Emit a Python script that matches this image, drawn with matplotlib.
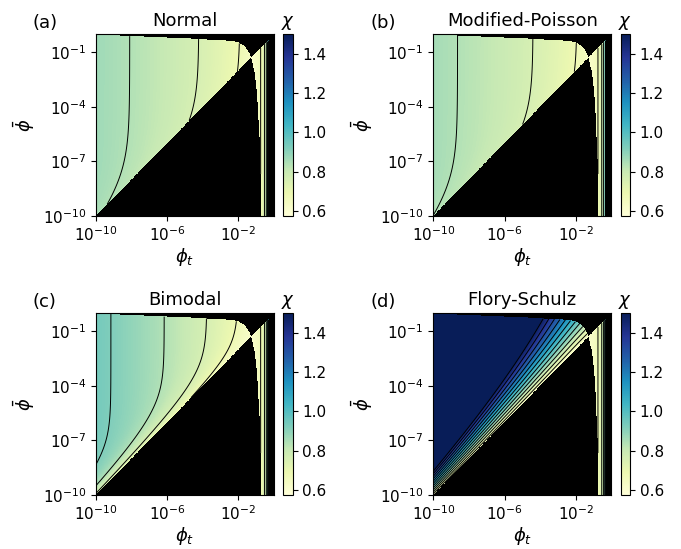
import numpy as np
import matplotlib
matplotlib.use("Agg")
import matplotlib.pyplot as plt
from matplotlib.colors import Normalize

plt.rcParams["font.size"] = 11

# Panels ######################################################################

titles = ["Normal", "Modified-Poisson", "Bimodal", "Flory-Schulz"]
tags = ["(a)", "(b)", "(c)", "(d)"]

# chi far from the diagonal at phi_t = 1e-10, and how fast it falls with phi_t
chi_left = [0.87, 0.86, 0.94, 0.64]
chi_min = [0.60, 0.60, 0.60, 0.60]
fall_exp = [0.48, 0.47, 0.60, 0.50]
# chi on the diagonal (phi_bar = phi_t) as fraction of the far value
diag_frac = [0.92, 0.92, 0.40, 1.00]
diag_rate = [0.40, 0.40, 0.60, 0.30]
# growth of chi with log10(phi_bar / phi_t) (Flory-Schulz only)
spread_amp = [0.0, 0.0, 0.0, 0.235]
spread_pow = [1.0, 1.0, 1.0, 1.0]
spread_tilt = [0.0, 0.0, 0.0, -0.05]

# rise of chi as phi_t -> 1
rise_amp = 0.28
rise_pole = 0.8
x_cross = -1.3

# edges of the solution region
top_slope = 0.045
top_gain = 12.7
top_pow = 1.3
top_phic = 0.22
x_right = -0.3

chi_lo, chi_hi = 0.573, 1.5
line_levels = np.arange(0.68, 1.5, 0.08)
cbar_ticks = [0.6, 0.8, 1.0, 1.2, 1.4]

# Grid ########################################################################

n = 500
lx = np.linspace(-10, 0, n)
ly = np.linspace(-10, 0, n)
X, Y = np.meshgrid(lx, ly)
phi_t = 10.0 ** X
phi_b = 10.0 ** Y

# upper edge of the allowed region in log10(phi_bar)
with np.errstate(invalid="ignore", divide="ignore"):
    y_top = -top_slope * (X + 10) + top_gain * np.log10(1 - (phi_t / top_phic) ** top_pow)
y_top = np.where(np.isnan(y_top), -np.inf, y_top)
valid = ((Y > X) != (Y > y_top)) & (X < x_right)


def chi_field(i):
    s = np.clip((x_cross - X) / (x_cross + 10), 0, None)
    far = chi_min[i] + (chi_left[i] - chi_min[i]) * s ** fall_exp[i]
    diag = chi_min[i] + diag_frac[i] * (far - chi_min[i])
    r = np.minimum(phi_t / phi_b, 1.0) ** diag_rate[i]
    chi = far - (far - diag) * r
    dist = np.maximum(Y - X, 0.0)
    chi = chi + spread_amp[i] * phi_b ** spread_tilt[i] * dist ** spread_pow[i]
    chi = chi + rise_amp * phi_t / np.clip(rise_pole - phi_t, 1e-3, None)
    return np.ma.masked_where(~valid, chi)


# Plots #######################################################################

W, H = 681, 549
fig = plt.figure(figsize=(W / 100, H / 100), dpi=100)
lefts = [96, 433.3, 96, 433.3]
tops = [34.3, 34.3, 313.3, 313.3]
aw, ah = 178, 181.7
norm = Normalize(chi_lo, chi_hi)

for i in range(4):
    ax = fig.add_axes([lefts[i] / W, 1 - (tops[i] + ah) / H, aw / W, ah / H])
    cax = fig.add_axes([(lefts[i] + 187.3) / W, 1 - (tops[i] + ah) / H, 9.4 / W, ah / H])
    ax.set_facecolor("black")
    chi = chi_field(i)
    pc = ax.pcolormesh(phi_t, phi_b, chi, cmap="YlGnBu", norm=norm, shading="auto")
    ax.contour(phi_t, phi_b, chi, levels=line_levels, colors="k", linewidths=0.7)
    ax.set_xscale("log")
    ax.set_yscale("log")
    ax.set_xlim(1e-10, 1)
    ax.set_ylim(1e-10, 1)
    ax.set_xticks([1e-10, 1e-6, 1e-2])
    ax.set_yticks([1e-10, 1e-7, 1e-4, 1e-1])
    ax.minorticks_off()
    ax.set_title(titles[i], fontsize=13)
    ax.set_xlabel(r"$\phi_t$", fontsize=13, labelpad=1)
    ax.set_ylabel(r"$\bar{\phi}$", fontsize=13)
    ax.text(-0.354, 1.062, tags[i], transform=ax.transAxes, fontsize=13, va="center")
    cb = fig.colorbar(pc, cax=cax, ticks=cbar_ticks)
    cax.set_title(r"$\chi$", fontsize=13)

plt.savefig("out.png", dpi=100)
